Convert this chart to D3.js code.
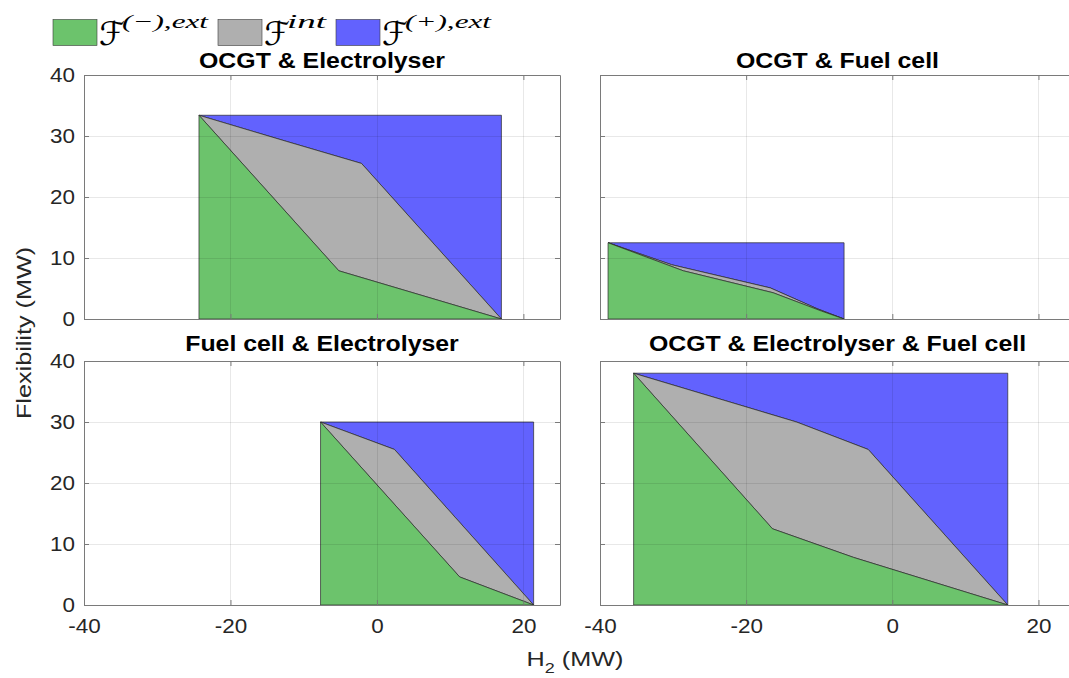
<!DOCTYPE html>
<html>
<head>
<meta charset="utf-8">
<script src="https://cdn.jsdelivr.net/npm/d3@7"></script>
<style>
  body { margin: 0; background: #fff; }
  svg { display: block; font-family: "Liberation Sans", Arial, sans-serif; }
</style>
</head>
<body>
<script>
// ---- data ----
const panelTitles = ["OCGT & Electrolyser", "OCGT & Fuel cell", "Fuel cell & Electrolyser", "OCGT & Electrolyser & Fuel cell"];

// lower boundary = top of F(-),ext ; upper boundary = top of F int
const ocgtElLower = [[-24.3, 33.4], [-5.2, 7.9], [17.0, 0]];
const ocgtElUpper = [[-24.3, 33.4], [-12.3, 29.1], [-2.1, 25.5], [17.0, 0]];

const ocgtFcLower = [[-38.9, 12.5], [-28.6, 7.9], [-16.3, 4.3], [-9.7, 1.3], [-6.6, 0]];
const ocgtFcUpper = [[-38.9, 12.5], [-30.2, 8.9], [-16.7, 5.1], [-10.3, 1.7], [-6.6, 0]];

const fcElLower = [[-7.7, 30.0], [11.3, 4.6], [21.4, 0]];
const fcElUpper = [[-7.7, 30.0], [2.4, 25.5], [21.4, 0]];

const allLower = [[-35.4, 38.0], [-16.4, 12.5], [-5.3, 7.8], [15.8, 0]];
const allUpper = [[-35.4, 38.0], [-13.1, 30.0], [-3.3, 25.5], [15.8, 0]];

const xTicks = [-40, -20, 0, 20];
const yTicks = [0, 10, 20, 30, 40];
const xDomain = [-40, 25];
const yDomain = [0, 40];

const legendLabels = ["(\u2212),ext", "int", "(+),ext"];
const legendColors = ["#6cc36c", "#afafaf", "#6262fe"];

// ---- layout ----
const W = 1069, H = 678;
const cols = [[84, 560], [600, 1075]];
const rows = [[75, 319], [361, 605]];
const K = 1.15; // horizontal stretch of the sans text

const svg = d3.select("body").append("svg").attr("width", W).attr("height", H);

const panels = [
  { title: panelTitles[0], lower: ocgtElLower, upper: ocgtElUpper, c: 0, r: 0 },
  { title: panelTitles[1], lower: ocgtFcLower, upper: ocgtFcUpper, c: 1, r: 0 },
  { title: panelTitles[2], lower: fcElLower, upper: fcElUpper, c: 0, r: 1 },
  { title: panelTitles[3], lower: allLower, upper: allUpper, c: 1, r: 1 },
];

function stretch(sel, k) {
  sel.each(function () {
    const t = d3.select(this);
    t.attr("textLength", this.getComputedTextLength() * k).attr("lengthAdjust", "spacingAndGlyphs");
  });
}

panels.forEach(p => {
  const [x0, x1] = cols[p.c];
  const [y0, y1] = rows[p.r];
  const x = d3.scaleLinear().domain(xDomain).range([x0, x1]);
  const y = d3.scaleLinear().domain(yDomain).range([y1, y0]);
  const g = svg.append("g");

  const xmin = p.lower[0][0], ytop = p.lower[0][1];
  const xmax = p.lower[p.lower.length - 1][0];
  const line = d3.line().x(d => x(d[0])).y(d => y(d[1]));

  const green = [[xmin, 0], ...p.lower];
  const gray = [...p.lower, ...p.upper.slice().reverse()];
  const blue = [...p.upper, [xmax, ytop]];

  [[blue, legendColors[2]], [gray, legendColors[1]], [green, legendColors[0]]].forEach(([pts, col]) => {
    g.append("path")
      .attr("d", line(pts) + "Z")
      .attr("fill", col)
      .attr("stroke", "#2a2a2a")
      .attr("stroke-width", 0.7)
      .attr("stroke-linejoin", "round");
  });

  // grid drawn faintly over the patches
  const grid = g.append("g").attr("stroke", "#000").attr("stroke-opacity", 0.09).attr("stroke-width", 1);
  grid.selectAll("line.gx").data(xTicks).join("line")
    .attr("x1", d => Math.round(x(d)) + 0.5).attr("x2", d => Math.round(x(d)) + 0.5)
    .attr("y1", y0).attr("y2", y1);
  grid.selectAll("line.gy").data(yTicks).join("line")
    .attr("x1", x0).attr("x2", x1)
    .attr("y1", d => Math.round(y(d)) + 0.5).attr("y2", d => Math.round(y(d)) + 0.5);

  // axes, ticks pointing in
  const fmt = d => String(d);
  const axL = d3.axisLeft(y).tickValues(yTicks).tickSizeInner(-5).tickSizeOuter(0).tickPadding(9).tickFormat(fmt);
  const axB = d3.axisBottom(x).tickValues(xTicks).tickSizeInner(-5).tickSizeOuter(0).tickPadding(18).tickFormat(fmt);
  const axT = d3.axisTop(x).tickValues(xTicks).tickSizeInner(-5).tickSizeOuter(0).tickFormat("");
  const axR = d3.axisRight(y).tickValues(yTicks).tickSizeInner(-5).tickSizeOuter(0).tickFormat("");
  if (p.c !== 0) axL.tickFormat("");
  if (p.r !== 1) axB.tickFormat("");

  g.append("g").attr("transform", `translate(${x0},0)`).call(axL);
  const aB = g.append("g").attr("transform", `translate(0,${y1})`).call(axB);
  g.append("g").attr("transform", `translate(0,${y0})`).call(axT);
  g.append("g").attr("transform", `translate(${x1},0)`).call(axR);

  g.selectAll(".domain, .tick line").attr("stroke", "#7a7a7a");
  g.selectAll(".tick text").attr("fill", "#262626").attr("font-size", 19.5)
    .attr("font-family", "'Liberation Sans', Arial, sans-serif");
  aB.selectAll(".tick text").attr("dy", "0.5em");
  stretch(g.selectAll(".tick text"), K);

  const tt = g.append("text")
    .attr("x", (x0 + x1) / 2).attr("y", p.r === 0 ? 68 : 351)
    .attr("text-anchor", "middle").attr("font-weight", "bold").attr("font-size", 22)
    .attr("fill", "#000").text(p.title);
  stretch(tt, 1.13);
});

// axis labels
const yl = svg.append("text")
  .attr("transform", "translate(31,333) rotate(-90)")
  .attr("text-anchor", "middle").attr("font-size", 21).attr("fill", "#262626")
  .text("Flexibility (MW)");
stretch(yl, 1.2);

const xl = svg.append("text").attr("x", 575).attr("y", 666)
  .attr("text-anchor", "middle").attr("font-size", 21).attr("fill", "#262626");
xl.append("tspan").text("H");
xl.append("tspan").attr("font-size", 15).attr("dy", 7).text("2");
xl.append("tspan").attr("dy", -7).text(" (MW)");
stretch(xl, 1.2);

// legend
const legendX = [53, 218, 336];
const legendSupW = [86, 39, 86];
const lg = svg.append("g");
legendLabels.forEach((lab, i) => {
  const lx = legendX[i];
  lg.append("rect").attr("x", lx).attr("y", 19.5).attr("width", 44).attr("height", 26)
    .attr("fill", legendColors[i]).attr("stroke", "#3a3a3a").attr("stroke-width", 0.6);
  lg.append("text").attr("x", lx + 46).attr("y", 45)
    .attr("font-family", "'DejaVu Sans', sans-serif")
    .attr("font-size", 33).attr("fill", "#000").text("\u2131");
  lg.append("text").attr("x", lx + 69).attr("y", 28)
    .attr("font-family", "'Liberation Serif', 'DejaVu Serif', serif").attr("font-style", "italic")
    .attr("font-size", 19).attr("fill", "#000")
    .attr("textLength", legendSupW[i]).attr("lengthAdjust", "spacingAndGlyphs")
    .text(lab);
});
</script>
</body>
</html>
